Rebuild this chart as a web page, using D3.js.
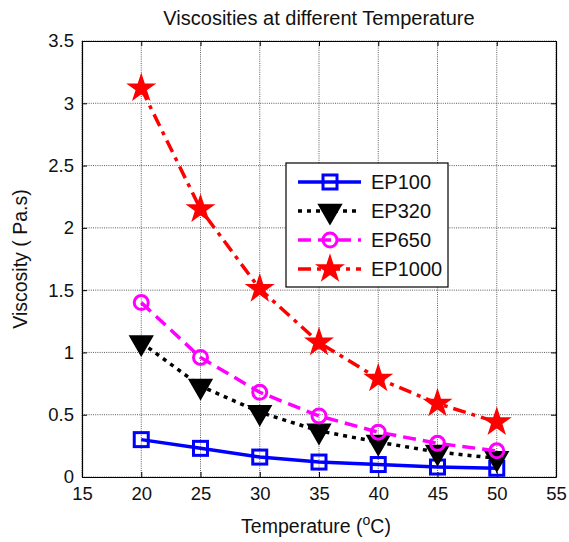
<!DOCTYPE html>
<html>
<head>
<meta charset="utf-8">
<script src="https://cdn.jsdelivr.net/npm/d3@7"></script>
<style>
  body { margin: 0; background: #fff; }
  svg text { font-family: "Liberation Sans", Arial, sans-serif; fill: #111; }
</style>
</head>
<body>
<svg id="chart" width="569" height="542"></svg>
<script>
// data
const temps = [20, 25, 30, 35, 40, 45, 50];
const ep100 = [0.30, 0.23, 0.16, 0.12, 0.10, 0.08, 0.07];
const ep320 = [1.08, 0.73, 0.52, 0.37, 0.28, 0.20, 0.15];
const ep650 = [1.40, 0.96, 0.68, 0.49, 0.36, 0.27, 0.21];
const ep1000 = [3.12, 2.15, 1.51, 1.08, 0.79, 0.59, 0.44];
const xTicks = [15, 20, 25, 30, 35, 40, 45, 50, 55];
const yTicks = [0, 0.5, 1, 1.5, 2, 2.5, 3, 3.5];
const seriesNames = ["EP100", "EP320", "EP650", "EP1000"];

const MARGIN = { top: 41, right: 13, bottom: 65, left: 82 };
const W = 569, H = 542;
const width = W - MARGIN.left - MARGIN.right;
const height = H - MARGIN.top - MARGIN.bottom;

const svg = d3.select('#chart');
const g = svg.append('g').attr('transform', 'translate(' + MARGIN.left + ',' + MARGIN.top + ')');

const x = d3.scaleLinear().domain([15, 55]).range([0, width]);
const y = d3.scaleLinear().domain([0, 3.5]).range([height, 0]);

// grid
g.selectAll('.vgrid').data(xTicks).enter().append('line')
  .attr('x1', d => x(d)).attr('x2', d => x(d)).attr('y1', 0).attr('y2', height)
  .attr('stroke', '#333').attr('stroke-width', 0.8).attr('stroke-dasharray', '1,1.2');
g.selectAll('.hgrid').data(yTicks).enter().append('line')
  .attr('y1', d => y(d)).attr('y2', d => y(d)).attr('x1', 0).attr('x2', width)
  .attr('stroke', '#333').attr('stroke-width', 0.8).attr('stroke-dasharray', '1,1.2');

// axes with inward ticks on all four sides
const fmt = d3.format('~g');
g.append('g').attr('transform', 'translate(0,' + height + ')')
  .call(d3.axisBottom(x).tickValues(xTicks).tickSizeInner(-5).tickSizeOuter(0).tickPadding(10).tickFormat(fmt));
g.append('g')
  .call(d3.axisTop(x).tickValues(xTicks).tickSizeInner(-5).tickSizeOuter(0).tickFormat(''));
g.append('g')
  .call(d3.axisLeft(y).tickValues(yTicks).tickSizeInner(-5).tickSizeOuter(0).tickPadding(8).tickFormat(fmt));
g.append('g').attr('transform', 'translate(' + width + ',0)')
  .call(d3.axisRight(y).tickValues(yTicks).tickSizeInner(-5).tickSizeOuter(0).tickFormat(''));
g.selectAll('.domain').attr('stroke', '#000').attr('stroke-width', 1.2);
g.selectAll('.tick line').attr('stroke', '#000');
g.selectAll('.tick text').attr('font-size', 18.5).style('fill', '#111');

const series = [
  { name: seriesNames[0], values: ep100, color: '#0000ff', dash: null, marker: 'square' },
  { name: seriesNames[1], values: ep320, color: '#000000', dash: '4,5', marker: 'triangle' },
  { name: seriesNames[2], values: ep650, color: '#ff00ff', dash: '13,7', marker: 'circle' },
  { name: seriesNames[3], values: ep1000, color: '#ff0000', dash: '13,6,4,6', marker: 'star' }
];

const line = d3.line().x((d, i) => x(temps[i])).y(d => y(d));

function drawMarker(sel, s) {
  if (s.marker === 'square') {
    sel.append('rect').attr('x', -7).attr('y', -7).attr('width', 14).attr('height', 14)
      .attr('fill', 'none').attr('stroke', s.color).attr('stroke-width', 3);
  } else if (s.marker === 'triangle') {
    sel.append('path').attr('d', d3.symbol().type(d3.symbolTriangle).size(190)())
      .attr('transform', 'rotate(180)')
      .attr('fill', s.color).attr('stroke', s.color).attr('stroke-width', 2.5);
  } else if (s.marker === 'circle') {
    sel.append('circle').attr('r', 7)
      .attr('fill', 'none').attr('stroke', s.color).attr('stroke-width', 3);
  } else {
    sel.append('path').attr('d', d3.symbol().type(d3.symbolStar).size(200)())
      .attr('fill', s.color).attr('stroke', s.color).attr('stroke-width', 1.5);
  }
}

series.forEach(function(s) {
  g.append('path').datum(s.values)
    .attr('fill', 'none').attr('stroke', s.color).attr('stroke-width', 3.5)
    .attr('stroke-dasharray', s.dash).attr('d', line);
  g.selectAll(null).data(s.values).enter().append('g')
    .attr('transform', (d, i) => 'translate(' + x(temps[i]) + ',' + y(d) + ')')
    .each(function() { drawMarker(d3.select(this), s); });
});

// legend
const lg = svg.append('g').attr('transform', 'translate(286,163)');
lg.append('rect').attr('width', 162).attr('height', 124)
  .attr('fill', '#fff').attr('stroke', '#000').attr('stroke-width', 1.2);
series.forEach(function(s, i) {
  const row = lg.append('g').attr('transform', 'translate(0,' + (19 + i * 29) + ')');
  row.append('line').attr('x1', 12).attr('x2', 75).attr('y1', 0).attr('y2', 0)
    .attr('stroke', s.color).attr('stroke-width', 3.5).attr('stroke-dasharray', s.dash);
  const m = row.append('g').attr('transform', 'translate(44,0)');
  drawMarker(m, s);
  row.append('text').attr('x', 85).attr('y', 0).attr('dy', '0.36em')
    .attr('font-size', 20).text(s.name);
});

// title and axis labels
svg.append('text').attr('x', MARGIN.left + width / 2).attr('y', 25)
  .attr('text-anchor', 'middle').attr('font-size', 20).text('Viscosities at different Temperature');

const xl = svg.append('text').attr('x', MARGIN.left + width / 2 - 3).attr('y', 533)
  .attr('text-anchor', 'middle').attr('font-size', 19.5);
xl.append('tspan').text('Temperature (');
xl.append('tspan').attr('dy', -8).attr('font-size', 14).text('o');
xl.append('tspan').attr('dy', 8).text('C)');

svg.append('text').attr('transform', 'translate(27,' + (MARGIN.top + height / 2) + ') rotate(-90)')
  .attr('text-anchor', 'middle').attr('font-size', 19.5).text('Viscosity ( Pa.s)');
</script>
</body>
</html>
